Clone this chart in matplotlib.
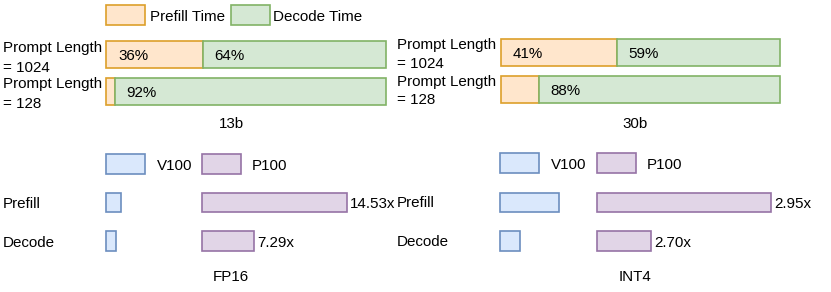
import matplotlib
matplotlib.use("Agg")
import matplotlib.pyplot as plt
from matplotlib.patches import Rectangle

plt.rcParams['font.family'] = ['Liberation Sans', 'DejaVu Sans']

# ---------------- data ----------------
prompt_rows = ['Prompt Length\n= 1024', 'Prompt Length\n= 128']
share_13b = [0.345, 0.032]           # prefill share as drawn
share_30b = [0.415, 0.136]
pct_13b = [('36%', '64%'), ('', '92%')]
pct_30b = [('41%', '59%'), ('', '88%')]

stages = ['Prefill', 'Decode']
v100_fp16 = [15, 10]
p100_fp16 = [145, 52]
speedup_fp16 = ['14.53x', '7.29x']
v100_int4 = [59, 20]
p100_int4 = [174, 54]
speedup_int4 = ['2.95x', '2.70x']

# ---------------- style ----------------
W, H = 831, 292
FS = 10.9
ORANGE = ('#ffe6cc', '#dda02a')
GREEN = ('#d5e8d4', '#82b366')
BLUE = ('#dae8fc', '#6c8ebf')
PURPLE = ('#e1d5e7', '#9673a6')
LW = 1.2

fig = plt.figure(figsize=(W / 100, H / 100), dpi=100)


def add_ax(x0, y0, x1, y1):
    ax = fig.add_axes([x0 / W, 1 - y1 / H, (x1 - x0) / W, (y1 - y0) / H])
    ax.axis('off')
    return ax


def T(x, ybase, s, ha='left'):
    fig.text(x / W, 1 - ybase / H, s, ha=ha, va='baseline', fontsize=FS)


def swatch(x0, y0, x1, y1, col):
    fig.add_artist(Rectangle((x0 / W, 1 - y1 / H), (x1 - x0) / W, (y1 - y0) / H,
                             transform=fig.transFigure, fc=col[0], ec=col[1], lw=LW))


def row_axes(x0, x1, c0, spacing, pad=0.5):
    ax = add_ax(x0, c0 - pad * spacing, x1, c0 + (1 + pad) * spacing)
    ax.set_ylim(1 + pad, -pad)
    return ax


# ---------------- top: prefill / decode share ----------------
swatch(106, 5, 145, 25, ORANGE)
T(150, 21, 'Prefill Time')
swatch(231, 5, 270, 25, GREEN)
T(273, 21, 'Decode Time')


def stacked(x0, x1, c0, spacing, share, pcts, label_x, label_bases, title, title_x):
    ax = row_axes(x0, x1, c0, spacing)
    ax.set_xlim(0, 1)
    ys = list(range(len(share)))
    h = 27 / spacing
    decode = [1 - s for s in share]
    ax.barh(ys, share, height=h, color=ORANGE[0], edgecolor=ORANGE[1], lw=LW, clip_on=False)
    ax.barh(ys, decode, left=share, height=h, color=GREEN[0], edgecolor=GREEN[1], lw=LW, clip_on=False)
    for i, (a, b) in enumerate(pcts):
        if a:
            ax.annotate(a, (0, i), xytext=(8.6, -4.2), textcoords='offset points',
                        va='baseline', ha='left', fontsize=FS)
        if b:
            ax.annotate(b, (share[i], i), xytext=(8.3, -4.2), textcoords='offset points',
                        va='baseline', ha='left', fontsize=FS)
    for lab, bases in zip(prompt_rows, label_bases):
        for line, yb in zip(lab.split('\n'), bases):
            T(label_x, yb, line)
    T(title_x, 128, title, ha='center')


stacked(106, 386, 54.5, 36.5, share_13b, pct_13b, 3, [(52, 72), (88, 108)], '13b', 231)
stacked(501, 780, 52.5, 36.5, share_30b, pct_30b, 397, [(49, 68), (86, 104)], '30b', 635)


# ---------------- bottom: V100 vs P100 ----------------
def speed(xv, xp, v, p, sp, label_x, bases, leg_y, leg_text_base, title, title_x):
    swatch(xv, leg_y, xv + 39, leg_y + 20, BLUE)
    T(xv + 51, leg_text_base, 'V100')
    swatch(xp, leg_y, xp + 39, leg_y + 20, PURPLE)
    T(xp + 50, leg_text_base, 'P100')
    spacing = 38.5
    c0 = 202.5
    h = 19.5 / spacing
    ys = list(range(len(v)))
    axv = row_axes(xv, xv + 100, c0, spacing)
    axv.set_xlim(0, 100)
    axv.barh(ys, v, height=h, color=BLUE[0], edgecolor=BLUE[1], lw=LW, clip_on=False)
    axp = row_axes(xp, xp + 200, c0, spacing)
    axp.set_xlim(0, 200)
    axp.barh(ys, p, height=h, color=PURPLE[0], edgecolor=PURPLE[1], lw=LW, clip_on=False)
    for i, s in enumerate(sp):
        axp.annotate(s, (p[i], i), xytext=(2.2, -4.0), textcoords='offset points',
                     va='baseline', ha='left', fontsize=FS)
    for st, yb in zip(stages, bases):
        T(label_x, yb, st)
    T(title_x, 281, title, ha='center')


speed(106, 202, v100_fp16, p100_fp16, speedup_fp16, 3, (208, 247), 154, 170, 'FP16', 231)
speed(500, 597, v100_int4, p100_int4, speedup_int4, 397, (207, 246), 153, 169, 'INT4', 635)

fig.savefig('out.png', dpi=100)
